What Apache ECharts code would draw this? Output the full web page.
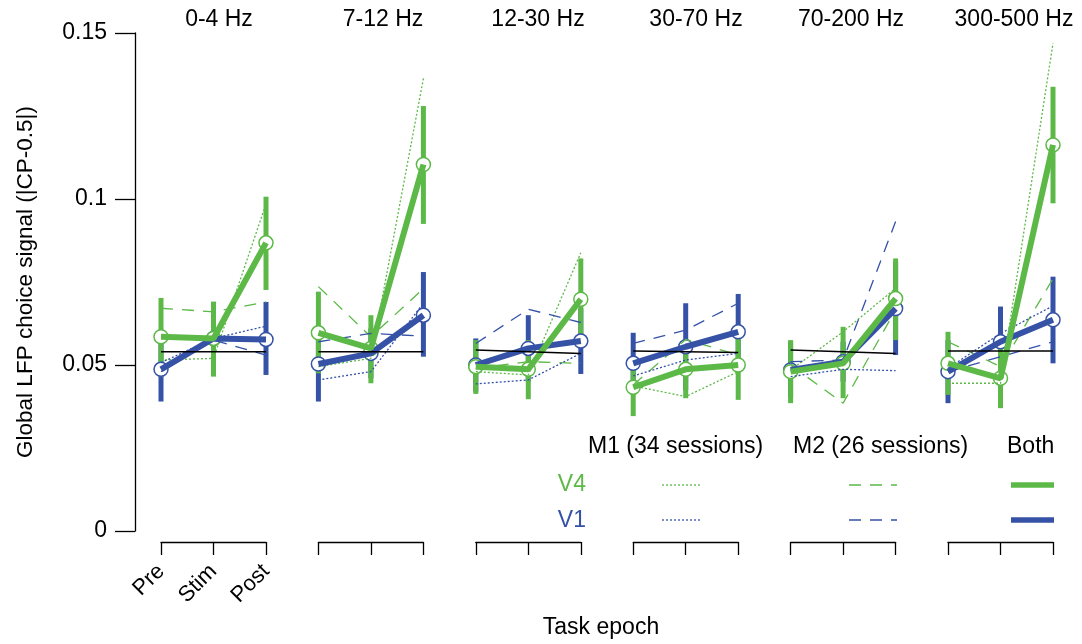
<!DOCTYPE html>
<html><head><meta charset="utf-8">
<script src="https://cdn.jsdelivr.net/npm/echarts@6/dist/echarts.min.js"></script>
<style>html,body{margin:0;padding:0;background:#fff}#c{width:1082px;height:644px}</style>
</head><body><div id="c"></div>
<script>
// ---- data ----
const bands = ['0-4 Hz','7-12 Hz','12-30 Hz','30-70 Hz','70-200 Hz','300-500 Hz'];
const epochs = ['Pre','Stim','Post'];
const yTicks = [0, 0.05, 0.1, 0.15];

// Both monkeys, V4 (green thick) mean and error range
const v4Both = [
  [0.0585,0.058,0.0868],
  [0.0597,0.055,0.1104],
  [0.0495,0.0487,0.0698],
  [0.0433,0.0487,0.050],
  [0.048,0.0505,0.070],
  [0.0505,0.046,0.1163]
];
const v4Low = [
  [0.0464,0.0465,0.0726],
  [0.0475,0.0445,0.0925],
  [0.0413,0.0397,0.0555],
  [0.0346,0.040,0.0395],
  [0.0385,0.040,0.0575],
  [0.041,0.037,0.0987]
];
const v4High = [
  [0.0702,0.0691,0.1007],
  [0.0721,0.065,0.128],
  [0.0575,0.0575,0.0821],
  [0.052,0.0575,0.0595],
  [0.0575,0.0615,0.0821],
  [0.060,0.055,0.1338]
];
// Both monkeys, V1 (blue thick)
const v1Both = [
  [0.0487,0.058,0.0577],
  [0.0503,0.0535,0.065],
  [0.050,0.055,0.0572],
  [0.0505,0.0555,0.060],
  [0.0485,0.051,0.067],
  [0.048,0.057,0.0636]
];
const v1Low = [
  [0.039,0.050,0.047],
  [0.039,0.046,0.0525],
  [0.042,0.045,0.0473],
  [0.041,0.0424,0.0486],
  [0.040,0.045,0.053],
  [0.0385,0.0464,0.0505]
];
const v1High = [
  [0.0584,0.066,0.069],
  [0.0616,0.061,0.078],
  [0.058,0.065,0.0671],
  [0.0597,0.0686,0.0714],
  [0.057,0.057,0.081],
  [0.0575,0.0676,0.0766]
];
// M1 (dotted) and M2 (dashed)
const m1V4 = [
  [0.0515,0.052,0.0985],
  [0.0495,0.052,0.1363],
  [0.048,0.047,0.0838],
  [0.0437,0.0405,0.048],
  [0.0485,0.060,0.0731],
  [0.0445,0.0445,0.1469]
];
const m2V4 = [
  [0.0671,0.066,0.069],
  [0.0736,0.0585,0.073],
  [0.049,0.051,0.0505],
  [0.044,0.0577,0.053],
  [0.050,0.0385,0.0666],
  [0.057,0.0495,0.076]
];
const m1V1 = [
  [0.0507,0.058,0.0617],
  [0.0455,0.048,0.0686],
  [0.0443,0.0455,0.0535],
  [0.0467,0.0515,0.0535],
  [0.0465,0.0487,0.0483],
  [0.049,0.0595,0.0678]
];
const m2V1 = [
  [0.048,0.0575,0.053],
  [0.057,0.0595,0.0587],
  [0.0565,0.0668,0.0628],
  [0.0565,0.0605,0.0686],
  [0.051,0.0515,0.0932],
  [0.048,0.0525,0.057]
];
// black reference line
const shuffle = [
  [0.054,0.054,0.054],
  [0.054,0.054,0.054],
  [0.0545,0.054,0.0535],
  [0.0542,0.054,0.0538],
  [0.0545,0.054,0.0535],
  [0.0542,0.0542,0.0542]
];

// ---- chart ----
const GREEN = '#5cb947', BLUE = '#3552a6';
const FONT = '"Liberation Sans", Arial, Helvetica, sans-serif';
const chart = echarts.init(document.getElementById('c'));
const grids = [], xAxes = [], yAxes = [], series = [];
const titleX = [219, 383, 538, 696, 851, 1014];

function lineS(i, arr, color, width, type) {
  return {type:'line', xAxisIndex:i, yAxisIndex:i, data:arr[i], symbol:'none', silent:true,
    lineStyle:{color:color, width:width, type:type}};
}
function errS(i, low, high, color) {
  return {type:'custom', xAxisIndex:i, yAxisIndex:i, silent:true,
    data: low[i].map((l,k)=>[k, l, high[i][k]]),
    encode:{x:0, y:[1,2]},
    renderItem:(params, api)=>{
      const a = api.coord([api.value(0), api.value(1)]);
      const b = api.coord([api.value(0), api.value(2)]);
      return {type:'line', shape:{x1:a[0], y1:a[1], x2:b[0], y2:b[1]},
        style:{stroke:color, lineWidth:5}};
    }};
}
function markS(i, arr, color) {
  return {type:'scatter', xAxisIndex:i, yAxisIndex:i, data:arr[i], silent:true,
    symbol:'circle', symbolSize:14,
    itemStyle:{color:'#fff', borderColor:color, borderWidth:1.5, opacity:1}};
}

for (let i = 0; i < bands.length; i++) {
  grids.push({left:161 + i*157.4, top:33, width:105, height:498});
  xAxes.push({type:'category', gridIndex:i, data:epochs, boundaryGap:false, offset:11,
    axisLine:{onZero:false, lineStyle:{color:'#000', width:1.3}},
    axisTick:{length:13, inside:false, lineStyle:{color:'#000', width:1.3}},
    axisLabel:{show:i===0, interval:0, rotate:45, fontSize:22, color:'#000', fontFamily:FONT, margin:26},
    splitLine:{show:false}});
  yAxes.push({type:'value', gridIndex:i, min:yTicks[0], max:yTicks[yTicks.length-1], interval:0.05,
    show:i===0, offset:26,
    name: i===0 ? 'Global LFP choice signal (|CP-0.5|)' : '',
    nameLocation:'middle', nameGap:98,
    nameTextStyle:{fontSize:22.5, color:'#000', fontFamily:FONT},
    axisLine:{show:true, onZero:false, lineStyle:{color:'#000', width:1.3}},
    axisTick:{show:true, length:20, inside:false, lineStyle:{color:'#000', width:1.3}},
    axisLabel:{fontSize:23, color:'#000', fontFamily:FONT, margin:28},
    splitLine:{show:false}});
  series.push(lineS(i, m1V4, GREEN, 1.3, [2,2]));
  series.push(lineS(i, m2V4, GREEN, 1.3, [12,9]));
  series.push(lineS(i, m1V1, BLUE, 1.3, [2,2]));
  series.push(lineS(i, m2V1, BLUE, 1.3, [12,9]));
  series.push(errS(i, v1Low, v1High, BLUE));
  series.push(lineS(i, v1Both, BLUE, 6, 'solid'));
  series.push(errS(i, v4Low, v4High, GREEN));
  series.push(lineS(i, v4Both, GREEN, 6, 'solid'));
  series.push(lineS(i, shuffle, '#000', 1.5, 'solid'));
  series.push(markS(i, v1Both, BLUE));
  series.push(markS(i, v4Both, GREEN));
}

const txt = (x, y, s, color, align) => ({type:'text', x:x, y:y, silent:true,
  style:{text:s, fill:color||'#000', font:'23px ' + FONT, textAlign:align||'left', textVerticalAlign:'middle'}});
const seg = (x1, x2, y, color, w, dash) => ({type:'line', silent:true,
  shape:{x1:x1, y1:y, x2:x2, y2:y}, style:{stroke:color, lineWidth:w, lineDash:dash||null}});

const graphics = [];
bands.forEach((b, i) => graphics.push(txt(titleX[i], 20, b, '#000', 'center')));
graphics.push(txt(601, 628, 'Task epoch', '#000', 'center'));
graphics.push(txt(588, 447, 'M1 (34 sessions)'));
graphics.push(txt(793, 447, 'M2 (26 sessions)'));
graphics.push(txt(1007, 447, 'Both'));
graphics.push(txt(586, 485, 'V4', GREEN, 'right'));
graphics.push(txt(586, 521, 'V1', BLUE, 'right'));
graphics.push(seg(662, 702, 485, GREEN, 1.3, [2,2]));
graphics.push(seg(662, 702, 520, BLUE, 1.3, [2,2]));
graphics.push(seg(849, 897, 485, GREEN, 1.3, [12,9]));
graphics.push(seg(849, 897, 520, BLUE, 1.3, [12,9]));
graphics.push(seg(1011, 1054, 485, GREEN, 5.5));
graphics.push(seg(1011, 1054, 520, BLUE, 5.5));

chart.setOption({
  animation:false,
  backgroundColor:'#fff',
  textStyle:{fontFamily:FONT},
  grid:grids, xAxis:xAxes, yAxis:yAxes, series:series,
  graphic:graphics
});
</script>
</body></html>
